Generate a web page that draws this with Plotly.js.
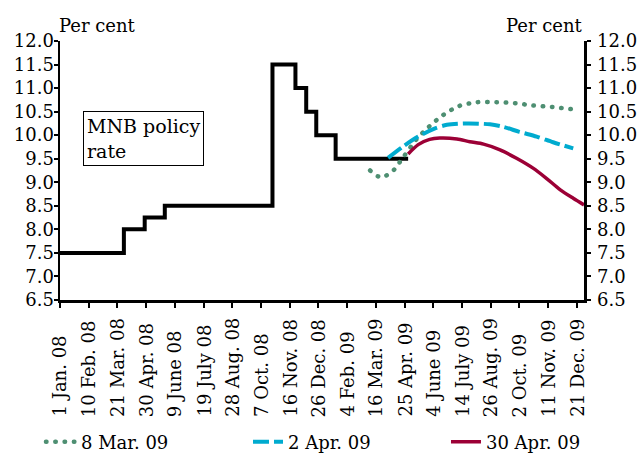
<!DOCTYPE html>
<html>
<head>
<meta charset="utf-8">
<script src="https://cdn.plot.ly/plotly-3.0.1.min.js"></script>
<style>
  html, body { margin: 0; padding: 0; background: #fff; }
  #chart { width: 637px; height: 454px; }
</style>
</head>
<body>
<div id="chart"></div>
<script>
// MNB policy rate (step series)
const policyDates = ['2008-01-01','2008-03-30','2008-04-28','2008-05-26','2008-10-23','2008-11-24','2008-12-09','2008-12-23','2009-01-19','2009-04-30'];
const policyRate  = [7.5, 8.0, 8.25, 8.5, 11.5, 11.0, 10.5, 10.0, 9.5, 9.5];

// Expected rate path, 8 Mar. 09
const mar8Dates  = ['2009-03-08','2009-03-20','2009-03-30','2009-04-10','2009-04-18','2009-05-11','2009-05-29','2009-06-18','2009-07-10','2009-08-04','2009-08-31','2009-09-26','2009-10-21','2009-11-16','2009-12-15'];
const mar8Values = [9.25, 9.12, 9.14, 9.26, 9.42, 9.90, 10.18, 10.43, 10.62, 10.70, 10.70, 10.68, 10.63, 10.60, 10.55];

// Expected rate path, 2 Apr. 09
const apr2Dates  = ['2009-04-02','2009-04-23','2009-05-14','2009-06-04','2009-06-23','2009-07-21','2009-08-22','2009-09-09','2009-10-02','2009-10-26','2009-11-18','2009-12-16'];
const apr2Values = [9.52, 9.76, 9.97, 10.13, 10.22, 10.25, 10.23, 10.18, 10.07, 9.97, 9.85, 9.72];

// Expected rate path, 30 Apr. 09
const apr30Dates  = ['2009-04-30','2009-05-14','2009-05-30','2009-06-13','2009-07-07','2009-07-25','2009-08-13','2009-09-05','2009-09-28','2009-10-21','2009-11-09','2009-11-28','2009-12-16','2009-12-31'];
const apr30Values = [9.60, 9.80, 9.91, 9.94, 9.92, 9.86, 9.81, 9.69, 9.51, 9.30, 9.08, 8.84, 8.66, 8.52];

// X-axis ticks
const tickDates  = ['2008-01-01','2008-02-10','2008-03-21','2008-04-30','2008-06-09','2008-07-19','2008-08-28','2008-10-07','2008-11-16','2008-12-26','2009-02-04','2009-03-16','2009-04-25','2009-06-04','2009-07-14','2009-08-23','2009-10-02','2009-11-11','2009-12-21'];
const tickLabels = ['1 Jan. 08','10 Feb. 08','21 Mar. 08','30 Apr. 08','9 June 08','19 July 08','28 Aug. 08','7 Oct. 08','16 Nov. 08','26 Dec. 08','4 Feb. 09','16 Mar. 09','25 Apr. 09','4 June 09','14 July 09','26 Aug. 09','2 Oct. 09','11 Nov. 09','21 Dec. 09'];

const seriesNames = ['8 Mar. 09', '2 Apr. 09', '30 Apr. 09'];
const boxLabel = 'MNB policy<br>rate';
const unitLabel = 'Per cent';

const FONT = 'DejaVu Serif, Liberation Serif, serif';
const DOT_DASH = '0.5px,8.8px';

const traces = [
  {
    x: policyDates, y: policyRate, type: 'scatter', mode: 'lines',
    line: { color: '#000000', width: 4, shape: 'hv' },
    showlegend: false, hoverinfo: 'skip'
  },
  {
    x: mar8Dates, y: mar8Values, type: 'scatter', mode: 'lines', name: seriesNames[0],
    legend: 'legend',
    line: { color: '#4e8f72', width: 4.5, dash: DOT_DASH, shape: 'spline', smoothing: 0.8 }
  },
  {
    x: apr2Dates, y: apr2Values, type: 'scatter', mode: 'lines', name: seriesNames[1],
    legend: 'legend2',
    line: { color: '#00abcf', width: 4, dash: '16px,5px', shape: 'spline', smoothing: 0.8 }
  },
  {
    x: apr30Dates, y: apr30Values, type: 'scatter', mode: 'lines', name: seriesNames[2],
    legend: 'legend3', yaxis: 'y2',
    line: { color: '#9c0036', width: 3.5, shape: 'spline', smoothing: 0.8 }
  }
];

const yTickVals = [6.5, 7.0, 7.5, 8.0, 8.5, 9.0, 9.5, 10.0, 10.5, 11.0, 11.5, 12.0];

const annotations = tickDates.map((d, i) => ({
  x: d, xref: 'x', y: -0.4556, yref: 'paper',
  text: tickLabels[i], textangle: -90, showarrow: false,
  xanchor: 'center', yanchor: 'bottom', borderpad: 0,
  font: { family: FONT, size: 18, color: '#000' }
}));

annotations.push({
  x: -0.006, xref: 'paper', y: 1.058, yref: 'paper',
  text: unitLabel, showarrow: false, xanchor: 'left', yanchor: 'middle',
  font: { family: FONT, size: 18, color: '#000' }
});
annotations.push({
  x: 1.002, xref: 'paper', y: 1.058, yref: 'paper',
  text: unitLabel, showarrow: false, xanchor: 'right', yanchor: 'middle',
  font: { family: FONT, size: 18, color: '#000' }
});
annotations.push({
  x: 0.044, xref: 'paper', y: 0.730, yref: 'paper',
  text: boxLabel, showarrow: false, xanchor: 'left', yanchor: 'top', align: 'left',
  bordercolor: '#000', borderwidth: 1, borderpad: 3, bgcolor: '#fff',
  font: { family: FONT, size: 19, color: '#000' }
});

const yaxisCommon = {
  range: [6.5, 12.0], tickvals: yTickVals, tickformat: '.1f',
  ticks: 'outside', ticklen: 4, tickwidth: 2, tickcolor: '#000',
  showline: true, linecolor: '#000', linewidth: 2.5,
  showgrid: false, zeroline: false, fixedrange: true,
  tickfont: { family: FONT, size: 18, color: '#000' }
};

function legendAt(xPaper) {
  return {
    orientation: 'h', x: xPaper, xanchor: 'left',
    yref: 'container', y: 0.0264, yanchor: 'middle',
    font: { family: FONT, size: 18, color: '#000' },
    bgcolor: 'rgba(0,0,0,0)', borderwidth: 0
  };
}

const layout = {
  width: 637, height: 454,
  margin: { l: 60, r: 53, t: 41, b: 154, pad: 0 },
  paper_bgcolor: '#fff', plot_bgcolor: '#fff',
  font: { family: FONT, size: 18, color: '#000' },
  showlegend: true,
  legend: legendAt(-0.0363),
  legend2: legendAt(0.3588),
  legend3: legendAt(0.7366),
  xaxis: {
    type: 'date', range: ['2008-01-01', '2009-12-31'],
    tickvals: tickDates, ticktext: tickLabels, showticklabels: false,
    ticks: 'outside', ticklen: 5, tickwidth: 2, tickcolor: '#000',
    showline: true, linecolor: '#000', linewidth: 2.5,
    showgrid: false, zeroline: false, fixedrange: true
  },
  yaxis: Object.assign({}, yaxisCommon, { side: 'left', ticklabelstandoff: -4 }),
  yaxis2: Object.assign({}, yaxisCommon, { side: 'right', overlaying: 'y', ticklabelstandoff: 3 }),
  annotations: annotations
};

Plotly.newPlot('chart', traces, layout, { displayModeBar: false, staticPlot: true }).then(gd => {
  // round caps so the dotted series shows round dots
  gd.querySelectorAll('path.js-line').forEach(p => {
    if ((p.style.strokeDasharray || '').indexOf('0.5px') === 0) {
      p.style.strokeLinecap = 'round';
    }
  });
});
</script>
</body>
</html>
